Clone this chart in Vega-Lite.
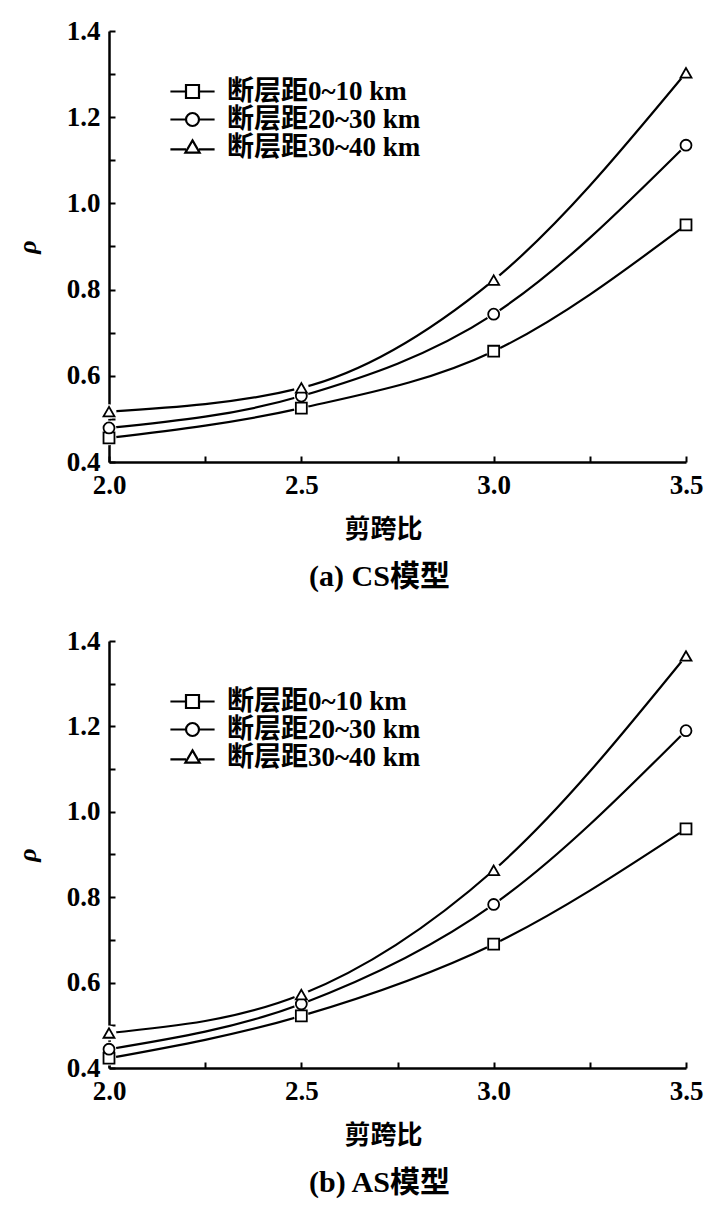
{
  "$schema": "https://vega.github.io/schema/vega-lite/v6.json",
  "background": "white",
  "padding": {"left": 14, "top": 17, "right": 10, "bottom": 10},
  "spacing": 35,
  "config": {
    "view": {"stroke": null},
    "font": "Liberation Serif",
    "axis": {
      "domainColor": "black",
      "domainWidth": 2.5,
      "tickColor": "black",
      "tickWidth": 2,
      "tickSize": -6,
      "grid": false,
      "labelFont": "Liberation Serif",
      "labelFontSize": 27,
      "labelFontWeight": "bold",
      "labelColor": "black",
      "labelFlush": false,
      "labelOverlap": false,
      "titleFont": "Liberation Serif, Noto Sans CJK SC",
      "titleFontSize": 26,
      "titleFontWeight": "bold",
      "titleColor": "black",
      "zindex": 1
    },
    "title": {
      "font": "Liberation Serif, Noto Sans CJK SC",
      "fontSize": 30,
      "fontWeight": "bold",
      "color": "black"
    },
    "legend": {
      "orient": "none",
      "legendX": 70,
      "legendY": 47,
      "labelFont": "Liberation Serif, Noto Sans CJK SC",
      "labelFontSize": 27,
      "labelFontWeight": "bold",
      "labelColor": "black",
      "labelOffset": 21,
      "labelLimit": 400,
      "rowPadding": 0,
      "symbolSize": 169
    }
  },
  "datasets": {
    "cs": [
      {"ratio": 2.0, "rho": 0.456, "series": "断层距0~10 km"},
      {"ratio": 2.5, "rho": 0.525, "series": "断层距0~10 km"},
      {"ratio": 3.0, "rho": 0.657, "series": "断层距0~10 km"},
      {"ratio": 3.5, "rho": 0.950, "series": "断层距0~10 km"},
      {"ratio": 2.0, "rho": 0.479, "series": "断层距20~30 km"},
      {"ratio": 2.5, "rho": 0.553, "series": "断层距20~30 km"},
      {"ratio": 3.0, "rho": 0.743, "series": "断层距20~30 km"},
      {"ratio": 3.5, "rho": 1.135, "series": "断层距20~30 km"},
      {"ratio": 2.0, "rho": 0.517, "series": "断层距30~40 km"},
      {"ratio": 2.5, "rho": 0.572, "series": "断层距30~40 km"},
      {"ratio": 3.0, "rho": 0.822, "series": "断层距30~40 km"},
      {"ratio": 3.5, "rho": 1.303, "series": "断层距30~40 km"}
    ],
    "as": [
      {"ratio": 2.0, "rho": 0.423, "series": "断层距0~10 km"},
      {"ratio": 2.5, "rho": 0.522, "series": "断层距0~10 km"},
      {"ratio": 3.0, "rho": 0.690, "series": "断层距0~10 km"},
      {"ratio": 3.5, "rho": 0.960, "series": "断层距0~10 km"},
      {"ratio": 2.0, "rho": 0.444, "series": "断层距20~30 km"},
      {"ratio": 2.5, "rho": 0.550, "series": "断层距20~30 km"},
      {"ratio": 3.0, "rho": 0.783, "series": "断层距20~30 km"},
      {"ratio": 3.5, "rho": 1.190, "series": "断层距20~30 km"},
      {"ratio": 2.0, "rho": 0.482, "series": "断层距30~40 km"},
      {"ratio": 2.5, "rho": 0.572, "series": "断层距30~40 km"},
      {"ratio": 3.0, "rho": 0.863, "series": "断层距30~40 km"},
      {"ratio": 3.5, "rho": 1.365, "series": "断层距30~40 km"}
    ]
  },
  "vconcat": [
    {
      "width": 577,
      "height": 431,
      "title": {"text": "(a) CS模型", "orient": "bottom", "offset": 20, "dx": -18},
      "data": {"name": "cs"},
      "encoding": {
        "x": {
          "field": "ratio", "type": "quantitative",
          "scale": {"domain": [2, 3.5], "nice": false, "zero": false},
          "axis": {
            "title": "剪跨比",
            "values": [2, 2.25, 2.5, 2.75, 3, 3.25, 3.5],
            "labelExpr": "round(datum.value * 4) % 2 == 0 ? format(datum.value, '.1f') : ''",
            "labelPadding": 16,
            "titlePadding": 18,
            "titleX": 274
          }
        },
        "y": {
          "field": "rho", "type": "quantitative",
          "scale": {"domain": [0.4, 1.4], "nice": false, "zero": false},
          "axis": {
            "title": "ρ",
            "titleFontStyle": "italic",
            "titleFont": "Liberation Serif",
            "values": [0.4, 0.5, 0.6, 0.7, 0.8, 0.9, 1.0, 1.1, 1.2, 1.3, 1.4],
            "labelExpr": "round(datum.value * 10) % 2 == 0 ? format(datum.value, '.1f') : ''",
            "labelPadding": 15,
            "titlePadding": 26
          }
        }
      },
      "layer": [
        {
          "mark": {"type": "line", "interpolate": "monotone", "color": "black", "strokeWidth": 2.2},
          "encoding": {"detail": {"field": "series", "type": "nominal"}}
        },
        {
          "mark": {"type": "point", "filled": true, "color": "white", "shape": "circle", "size": 220, "opacity": 1}
        },
        {
          "mark": {"type": "point", "filled": true, "fill": "white", "stroke": "black", "strokeWidth": 1.8, "size": 120, "opacity": 1},
          "encoding": {
            "shape": {
              "field": "series", "type": "nominal",
              "scale": {"range": ["square", "circle", "triangle-up"]},
              "legend": null
            }
          }
        },
        {
          "mark": {"type": "point", "filled": true, "fill": "white", "stroke": "black", "strokeWidth": 2.2, "size": 169, "opacity": 0},
          "encoding": {
            "shape": {
              "field": "series", "type": "nominal",
              "scale": {"range": ["M-3.4,0H-1M1,0H3.4M-1,-1H1V1H-1Z", "M-3.4,0H-1M1,0H3.4M-1,0A1,1 0 1,0 1,0A1,1 0 1,0 -1,0Z", "M-3.4,0.3H-1M1,0.3H3.4M0,-1.1L1.1,0.8H-1.1Z"]},
              "legend": {"title": null, "symbolOpacity": 1, "symbolStrokeWidth": 2.2, "symbolSize": 169}
            }
          }
        }
      ],
      "resolve": {"scale": {"shape": "independent"}}
    },
    {
      "width": 577,
      "height": 427,
      "title": {"text": "(b) AS模型", "orient": "bottom", "offset": 20, "dx": -18},
      "data": {"name": "as"},
      "encoding": {
        "x": {
          "field": "ratio", "type": "quantitative",
          "scale": {"domain": [2, 3.5], "nice": false, "zero": false},
          "axis": {
            "title": "剪跨比",
            "values": [2, 2.25, 2.5, 2.75, 3, 3.25, 3.5],
            "labelExpr": "round(datum.value * 4) % 2 == 0 ? format(datum.value, '.1f') : ''",
            "labelPadding": 16,
            "titlePadding": 18,
            "titleX": 274
          }
        },
        "y": {
          "field": "rho", "type": "quantitative",
          "scale": {"domain": [0.4, 1.4], "nice": false, "zero": false},
          "axis": {
            "title": "ρ",
            "titleFontStyle": "italic",
            "titleFont": "Liberation Serif",
            "values": [0.4, 0.5, 0.6, 0.7, 0.8, 0.9, 1.0, 1.1, 1.2, 1.3, 1.4],
            "labelExpr": "round(datum.value * 10) % 2 == 0 ? format(datum.value, '.1f') : ''",
            "labelPadding": 15,
            "titlePadding": 26
          }
        }
      },
      "layer": [
        {
          "mark": {"type": "line", "interpolate": "monotone", "color": "black", "strokeWidth": 2.2},
          "encoding": {"detail": {"field": "series", "type": "nominal"}}
        },
        {
          "mark": {"type": "point", "filled": true, "color": "white", "shape": "circle", "size": 220, "opacity": 1}
        },
        {
          "mark": {"type": "point", "filled": true, "fill": "white", "stroke": "black", "strokeWidth": 1.8, "size": 120, "opacity": 1},
          "encoding": {
            "shape": {
              "field": "series", "type": "nominal",
              "scale": {"range": ["square", "circle", "triangle-up"]},
              "legend": null
            }
          }
        },
        {
          "mark": {"type": "point", "filled": true, "fill": "white", "stroke": "black", "strokeWidth": 2.2, "size": 169, "opacity": 0},
          "encoding": {
            "shape": {
              "field": "series", "type": "nominal",
              "scale": {"range": ["M-3.4,0H-1M1,0H3.4M-1,-1H1V1H-1Z", "M-3.4,0H-1M1,0H3.4M-1,0A1,1 0 1,0 1,0A1,1 0 1,0 -1,0Z", "M-3.4,0.3H-1M1,0.3H3.4M0,-1.1L1.1,0.8H-1.1Z"]},
              "legend": {"title": null, "symbolOpacity": 1, "symbolStrokeWidth": 2.2, "symbolSize": 169}
            }
          }
        }
      ],
      "resolve": {"scale": {"shape": "independent"}}
    }
  ],
  "resolve": {"scale": {"shape": "independent"}, "legend": {"shape": "independent"}}
}
